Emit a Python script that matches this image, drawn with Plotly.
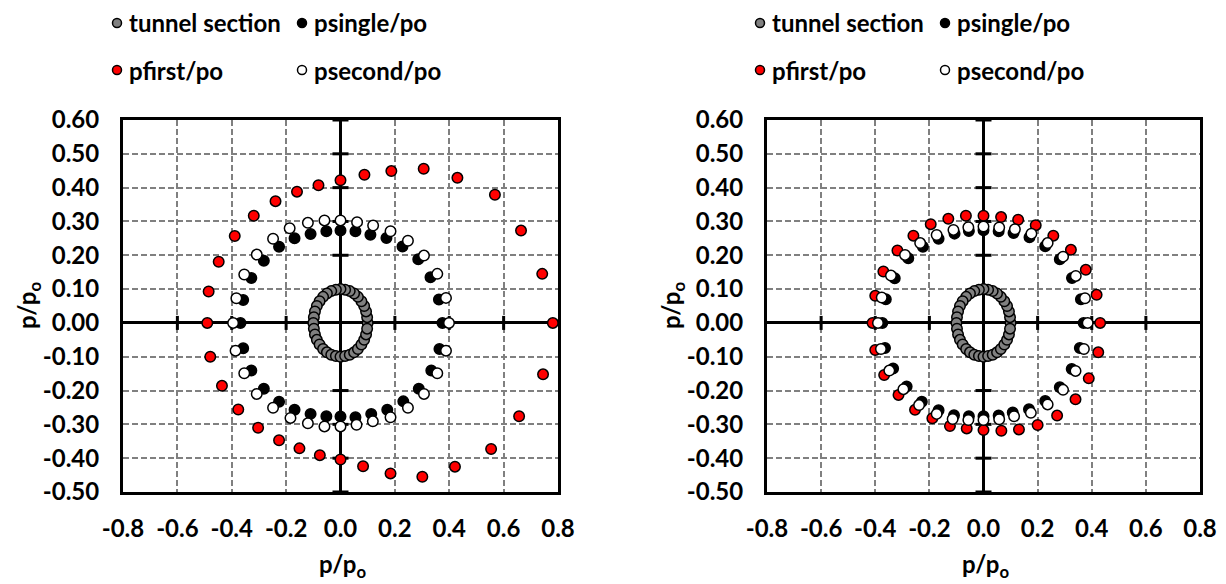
import plotly.graph_objects as go

# ---------------- data ----------------
# tunnel section (circle of radius 0.1, 10 degree steps)
tunnel_x = [0.100, 0.098, 0.094, 0.087, 0.077, 0.064, 0.050, 0.034, 0.017, 0.000,
            -0.017, -0.034, -0.050, -0.064, -0.077, -0.087, -0.094, -0.098, -0.100,
            -0.098, -0.094, -0.087, -0.077, -0.064, -0.050, -0.034, -0.017, 0.000,
            0.017, 0.034, 0.050, 0.064, 0.077, 0.087, 0.094, 0.098]
tunnel_y = [0.000, 0.017, 0.034, 0.050, 0.064, 0.077, 0.087, 0.094, 0.098, 0.100,
            0.098, 0.094, 0.087, 0.077, 0.064, 0.050, 0.034, 0.017, 0.000,
            -0.017, -0.034, -0.050, -0.064, -0.077, -0.087, -0.094, -0.098, -0.100,
            -0.098, -0.094, -0.087, -0.077, -0.064, -0.050, -0.034, -0.017]

# left chart
a_single_x = [-0.368, -0.358, -0.328, -0.282, -0.226, -0.169, -0.110, -0.052, 0.000, 0.055, 0.110, 0.169,
              0.228, 0.286, 0.331, 0.362, 0.375,
              0.364, 0.334, 0.288, 0.231, 0.172, 0.113, 0.055, 0.000, -0.052, -0.110, -0.169, -0.226,
              -0.282, -0.328, -0.358]
a_single_y = [0.000, 0.068, 0.133, 0.184, 0.225, 0.250, 0.263, 0.271, 0.273, 0.271, 0.261, 0.251,
              0.226, 0.188, 0.135, 0.069, 0.000,
              -0.077, -0.141, -0.195, -0.232, -0.257, -0.269, -0.279, -0.277, -0.276, -0.269, -0.257, -0.233,
              -0.195, -0.141, -0.075]
a_first_x = [-0.490, -0.485, -0.448, -0.389, -0.319, -0.239, -0.160, -0.081, 0.000, 0.088, 0.187, 0.306,
             0.430, 0.568, 0.664, 0.742, 0.781,
             0.745, 0.657, 0.554, 0.421, 0.301, 0.184, 0.083, 0.000, -0.076, -0.151, -0.226, -0.303,
             -0.376, -0.436, -0.479]
a_first_y = [0.000, 0.093, 0.181, 0.257, 0.317, 0.360, 0.388, 0.407, 0.422, 0.438, 0.449, 0.456,
             0.429, 0.379, 0.273, 0.145, 0.000,
             -0.152, -0.276, -0.373, -0.425, -0.455, -0.445, -0.424, -0.404, -0.391, -0.371, -0.347, -0.310,
             -0.256, -0.186, -0.100]
a_second_x = [-0.395, -0.383, -0.354, -0.308, -0.248, -0.187, -0.120, -0.059, 0.000, 0.061, 0.120, 0.184,
              0.248, 0.307, 0.356, 0.388, 0.399,
              0.388, 0.356, 0.307, 0.248, 0.184, 0.119, 0.059, 0.000, -0.059, -0.120, -0.184, -0.248,
              -0.308, -0.354, -0.386]
a_second_y = [0.000, 0.073, 0.143, 0.202, 0.249, 0.280, 0.296, 0.303, 0.303, 0.298, 0.288, 0.271,
              0.243, 0.199, 0.145, 0.074, 0.000,
              -0.082, -0.149, -0.210, -0.251, -0.279, -0.291, -0.301, -0.306, -0.306, -0.297, -0.281, -0.251,
              -0.210, -0.149, -0.082]

# right chart
b_single_x = [-0.374, -0.361, -0.328, -0.278, -0.224, -0.166, -0.107, -0.054, 0.000, 0.056, 0.111, 0.170,
              0.228, 0.282, 0.327, 0.360, 0.370,
              0.356, 0.326, 0.282, 0.228, 0.168, 0.108, 0.056, 0.000, -0.054, -0.109, -0.166, -0.228,
              -0.284, -0.334, -0.364]
b_single_y = [0.000, 0.070, 0.132, 0.191, 0.225, 0.249, 0.264, 0.272, 0.274, 0.271, 0.266, 0.253,
              0.227, 0.188, 0.133, 0.070, 0.000,
              -0.074, -0.136, -0.190, -0.231, -0.255, -0.265, -0.274, -0.276, -0.276, -0.273, -0.258, -0.233,
              -0.188, -0.135, -0.074]
b_first_x = [-0.410, -0.400, -0.370, -0.318, -0.259, -0.195, -0.130, -0.065, 0.000, 0.065, 0.128, 0.193,
             0.258, 0.323, 0.378, 0.418, 0.431,
             0.424, 0.389, 0.340, 0.272, 0.200, 0.131, 0.066, 0.000, -0.062, -0.124, -0.189, -0.253,
             -0.314, -0.367, -0.400]
b_first_y = [0.000, 0.080, 0.152, 0.214, 0.258, 0.292, 0.308, 0.317, 0.317, 0.313, 0.305, 0.289,
             0.258, 0.216, 0.157, 0.083, 0.000,
             -0.087, -0.164, -0.226, -0.274, -0.302, -0.315, -0.319, -0.317, -0.312, -0.305, -0.282, -0.257,
             -0.213, -0.154, -0.080]
b_second_x = [-0.390, -0.376, -0.342, -0.290, -0.234, -0.173, -0.111, -0.056, 0.000, 0.058, 0.116, 0.177,
              0.237, 0.294, 0.341, 0.375, 0.385,
              0.371, 0.340, 0.294, 0.237, 0.175, 0.113, 0.058, 0.000, -0.056, -0.114, -0.173, -0.238,
              -0.296, -0.348, -0.379]
b_second_y = [0.000, 0.075, 0.140, 0.201, 0.236, 0.260, 0.275, 0.283, 0.285, 0.282, 0.277, 0.264,
              0.236, 0.196, 0.139, 0.073, 0.000,
              -0.077, -0.142, -0.198, -0.241, -0.266, -0.276, -0.285, -0.287, -0.287, -0.284, -0.269, -0.243,
              -0.196, -0.141, -0.077]

series_names = ["tunnel section", "psingle/po", "pfirst/po", "psecond/po"]
series_colors = ["#808080", "#000000", "#FF0000", "#FFFFFF"]

x_ticks = [-0.8, -0.6, -0.4, -0.2, 0.0, 0.2, 0.4, 0.6, 0.8]
x_tick_labels = ["-0.8", "-0.6", "-0.4", "-0.2", "0.0", "0.2", "0.4", "0.6", "0.8"]
y_ticks = [0.6, 0.5, 0.4, 0.3, 0.2, 0.1, 0.0, -0.1, -0.2, -0.3, -0.4, -0.5]
y_tick_labels = ["0.60", "0.50", "0.40", "0.30", "0.20", "0.10", "0.00",
                 "-0.10", "-0.20", "-0.30", "-0.40", "-0.50"]

# ---------------- layout constants ----------------
W, H = 1226, 584
FONT = "Lato"
TEXT_FONT = dict(family=FONT, size=24, color="black", weight="bold")
MSIZE = 10.5

fig = go.Figure()

panels = [
    ("x", "y", [tunnel_x, a_single_x, a_first_x, a_second_x],
     [tunnel_y, a_single_y, a_first_y, a_second_y]),
    ("x2", "y2", [tunnel_x, b_single_x, b_first_x, b_second_x],
     [tunnel_y, b_single_y, b_first_y, b_second_y]),
]

for xa, ya, xs, ys in panels:
    for name, color, sx, sy in zip(series_names, series_colors, xs, ys):
        fig.add_trace(go.Scatter(
            x=sx, y=sy, mode="markers", name=name, xaxis=xa, yaxis=ya,
            showlegend=False,
            marker=dict(size=MSIZE, color=color, line=dict(color="black", width=1.5)),
        ))

axis_common = dict(
    showgrid=True, gridcolor="#808080", griddash="6px,3px", gridwidth=1.8,
    zeroline=True, zerolinecolor="black", zerolinewidth=3,
    showline=True, mirror=True, linecolor="black", linewidth=3,
    ticks="", tickfont=TEXT_FONT, fixedrange=True, automargin=False,
)

def px2paper_x(px):
    return px / W

def px2paper_y(py):
    return 1 - py / H

plot_top, plot_bottom = 120, 492
left_box = (123, 558)
right_box = (767, 1200)
ydom = [px2paper_y(plot_bottom), px2paper_y(plot_top)]

fig.update_layout(
    template="none",
    width=W, height=H,
    margin=dict(l=0, r=0, t=0, b=0, pad=0, autoexpand=False),
    paper_bgcolor="white", plot_bgcolor="white",
    showlegend=False,
    xaxis=dict(domain=[px2paper_x(left_box[0]), px2paper_x(left_box[1])], range=[-0.8, 0.8],
               tickvals=x_ticks, ticktext=x_tick_labels, ticklabelstandoff=13, anchor="y",
               **axis_common),
    yaxis=dict(domain=ydom, range=[-0.5, 0.6], tickvals=y_ticks, ticktext=y_tick_labels,
               ticklabelstandoff=16, anchor="x", **axis_common),
    xaxis2=dict(domain=[px2paper_x(right_box[0]), px2paper_x(right_box[1])], range=[-0.8, 0.8],
                tickvals=x_ticks, ticktext=x_tick_labels, ticklabelstandoff=13, anchor="y2",
                **axis_common),
    yaxis2=dict(domain=ydom, range=[-0.5, 0.6], tickvals=y_ticks, ticktext=y_tick_labels,
                ticklabelstandoff=16, anchor="x2", **axis_common),
)

# small cross marks along the zero axes
shapes = []
for xr, yr in (("x", "y"), ("x2", "y2")):
    for yv in y_ticks:
        if yv == 0.0:
            continue
        shapes.append(dict(type="line", xref=xr, yref=yr, xsizemode="pixel", xanchor=0,
                           x0=-8, x1=8, y0=yv, y1=yv, layer="between",
                           line=dict(color="black", width=3)))
    for xv in x_ticks:
        if xv == 0.0 or abs(xv) == 0.8:
            continue
        shapes.append(dict(type="line", xref=xr, yref=yr, ysizemode="pixel", yanchor=0,
                           y0=-7, y1=7, x0=xv, x1=xv, layer="between",
                           line=dict(color="black", width=3)))

# legends (two columns, two rows) above each chart
annotations = []
legend_rows = [23, 70]
for offset in (0, 643):
    cols = [117 + offset, 302 + offset]
    slots = [(cols[0], legend_rows[0]), (cols[1], legend_rows[0]),
             (cols[0], legend_rows[1]), (cols[1], legend_rows[1])]
    for (mx, my), name, color in zip(slots, series_names, series_colors):
        shapes.append(dict(type="circle", xref="paper", yref="paper",
                           xsizemode="pixel", ysizemode="pixel",
                           xanchor=px2paper_x(mx), yanchor=px2paper_y(my),
                           x0=-4.5, x1=4.5, y0=-4.5, y1=4.5,
                           fillcolor=color, line=dict(color="black", width=1.5)))
        annotations.append(dict(text=name, xref="paper", yref="paper",
                                x=px2paper_x(mx + 10), y=px2paper_y(my),
                                xanchor="left", yanchor="middle", showarrow=False,
                                font=TEXT_FONT))

# axis titles
for cx, cy in ((342, 565), (985, 565)):
    annotations.append(dict(text="p/p<sub>o</sub>", xref="paper", yref="paper",
                            x=px2paper_x(cx), y=px2paper_y(cy), xanchor="center", yanchor="middle",
                            showarrow=False, font=TEXT_FONT))
for cx, cy in ((28, 306), (672, 306)):
    annotations.append(dict(text="p/p<sub>o</sub>", xref="paper", yref="paper",
                            x=px2paper_x(cx), y=px2paper_y(cy), xanchor="center", yanchor="middle",
                            textangle=-90, showarrow=False, font=TEXT_FONT))

fig.update_layout(shapes=shapes, annotations=annotations)

fig.write_html("out.html")
